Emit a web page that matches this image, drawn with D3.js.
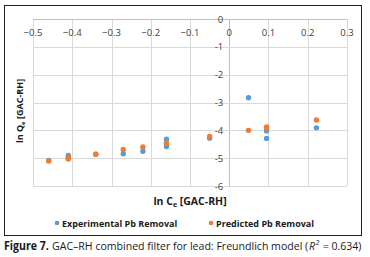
<!DOCTYPE html>
<html>
<head>
<meta charset="utf-8">
<script src="https://d3js.org/d3.v7.min.js"></script>
<style>
  body { margin: 0; background: #fff; }
  svg { display: block; }
</style>
</head>
<body>
<script>
// ln Ce and ln Qe readings for each run
var lnCe     = [-0.46, -0.41, -0.41, -0.34, -0.27, -0.22, -0.16, -0.16, -0.05, 0.049, 0.095, 0.095, 0.222];
var expQe    = [-5.08, -4.90, -5.00, -4.86, -4.84, -4.75, -4.32, -4.58, -4.28, -2.83, -4.02, -4.29, -3.91];
var predQe   = [-5.10, -4.97, -5.03, -4.86, -4.69, -4.60, -4.45, -4.47, -4.22, -4.00, -3.88, -3.92, -3.63];
var xTicks   = [-0.5, -0.4, -0.3, -0.2, -0.1, 0, 0.1, 0.2, 0.3];
var yTicks   = [0, -1, -2, -3, -4, -5, -6];
var seriesNames = ["Experimental Pb Removal", "Predicted Pb Removal"];
var colors = ["#5b9bd5", "#ed7d31"];

var W = 370, H = 257;
var svg = d3.select("body").append("svg")
	.attr("width", W)
	.attr("height", H);

// outer frame
svg.append("rect")
	.attr("x", 4.5).attr("y", 5.5)
	.attr("width", 357).attr("height", 230)
	.attr("fill", "none")
	.attr("stroke", "#222")
	.attr("stroke-width", 1);

var x = d3.scaleLinear().domain([-0.5, 0.3]).range([33, 347]);
var y = d3.scaleLinear().domain([0, -6]).range([19, 186]);

var font = "'Open Sans', 'Noto Sans', sans-serif";

// grid
svg.append("g").selectAll("line")
	.data(xTicks)
	.enter().append("line")
	.attr("x1", function(d) { return Math.round(x(d)) + 0.5; })
	.attr("x2", function(d) { return Math.round(x(d)) + 0.5; })
	.attr("y1", y(0)).attr("y2", y(-6))
	.attr("stroke", function(d) { return d === 0 ? "#bfbfbf" : "#d9d9d9"; })
	.attr("stroke-width", 1);

svg.append("g").selectAll("line")
	.data(yTicks)
	.enter().append("line")
	.attr("x1", x(-0.5)).attr("x2", x(0.3))
	.attr("y1", function(d) { return Math.round(y(d)) + 0.5; })
	.attr("y2", function(d) { return Math.round(y(d)) + 0.5; })
	.attr("stroke", function(d) { return d === 0 ? "#bfbfbf" : "#d9d9d9"; })
	.attr("stroke-width", 1);

// x tick labels hang under the y=0 line
svg.append("g").selectAll("text")
	.data(xTicks)
	.enter().append("text")
	.attr("x", function(d) { return x(d); })
	.attr("y", y(0) + 17)
	.attr("text-anchor", "middle")
	.attr("font-family", font)
	.attr("font-size", "9.5px")
	.attr("fill", "#404040")
	.text(function(d) { return d3.format(".1~f")(d); });

// y tick labels sit left of the x=0 line
svg.append("g").selectAll("text")
	.data(yTicks)
	.enter().append("text")
	.attr("x", x(0) - 6)
	.attr("y", function(d) { return y(d) + 3.5; })
	.attr("text-anchor", "end")
	.attr("font-family", font)
	.attr("font-size", "9.5px")
	.attr("fill", "#404040")
	.text(function(d) { return d; });

// points
var series = [expQe, predQe];
series.forEach(function(vals, s) {
	svg.append("g").selectAll("circle")
		.data(vals)
		.enter().append("circle")
		.attr("cx", function(d, i) { return x(lnCe[i]); })
		.attr("cy", function(d) { return y(d); })
		.attr("r", 2.7)
		.attr("fill", colors[s]);
});

// axis titles
var xt = svg.append("text")
	.attr("x", 190).attr("y", 205)
	.attr("text-anchor", "middle")
	.attr("font-family", font)
	.attr("font-size", "10.5px")
	.attr("font-weight", "bold")
	.attr("fill", "#1a1a1a");
xt.append("tspan").text("ln C");
xt.append("tspan").attr("font-size", "7px").attr("dy", 2).text("e");
xt.append("tspan").attr("dy", -2).text(" [GAC-RH]");

var yt = svg.append("text")
	.attr("transform", "translate(23,111) rotate(-90)")
	.attr("text-anchor", "middle")
	.attr("font-family", font)
	.attr("font-size", "9px")
	.attr("font-weight", "bold")
	.attr("fill", "#1a1a1a");
yt.append("tspan").text("ln Q");
yt.append("tspan").attr("font-size", "6px").attr("dy", 2).text("e");
yt.append("tspan").attr("dy", -2).text(" [GAC-RH]");

// legend
var legX = [57, 211];
seriesNames.forEach(function(name, s) {
	svg.append("circle")
		.attr("cx", legX[s]).attr("cy", 223)
		.attr("r", 2.3)
		.attr("fill", colors[s]);
	svg.append("text")
		.attr("x", legX[s] + 5).attr("y", 226.5)
		.attr("font-family", font)
		.attr("font-size", "9px")
		.attr("font-weight", "bold")
		.attr("fill", "#1a1a1a")
		.text(name);
});

// caption, laid out piece by piece then squeezed to the frame width
var capParts = [
	{t: "Figure 7.", w: "bold", s: "normal"},
	{t: "\u00a0GAC\u2013RH combined filter for lead: Freundlich model (", w: "normal", s: "normal"},
	{t: "R\u00b2", w: "normal", s: "italic"},
	{t: "\u00a0= 0.634)", w: "normal", s: "normal"}
];
var capG = svg.append("g");
var cx = 0;
capParts.forEach(function(p) {
	var t = capG.append("text")
		.attr("x", cx).attr("y", 0)
		.attr("font-family", font)
		.attr("font-size", "11.5px")
		.attr("font-weight", p.w)
		.attr("font-style", p.s)
		.attr("fill", "#1a1a1a")
		.text(p.t);
	cx += t.node().getComputedTextLength() + (p.s === "italic" ? 1.2 : 0.5);
});
var k = 358 / cx;
capG.attr("transform", "translate(4,250) scale(" + k + ",1)");
</script>
</body>
</html>
